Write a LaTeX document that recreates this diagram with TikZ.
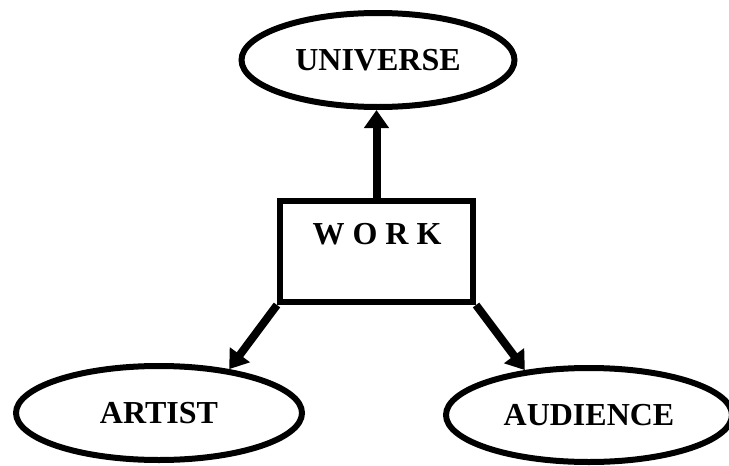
\documentclass[tikz,border=0pt]{standalone}
\usepackage{fontspec}
\setmainfont{Liberation Serif}
\usetikzlibrary{arrows.meta,shapes.geometric}
\tikzset{
  oval/.style={draw, ellipse, line width=6pt, minimum width=286pt, minimum height=94pt,
               inner sep=0pt, font=\fontsize{32}{32}\selectfont\bfseries},
  workbox/.style={draw, rectangle, line width=6pt, minimum width=193pt,
                  minimum height=101pt, inner sep=0pt},
  caption/.style={inner sep=0pt, font=\fontsize{32}{32}\selectfont\bfseries},
  link/.style={-{Triangle[length=18pt,width=24pt]}, line width=8pt},
}
\begin{document}
\begin{tikzpicture}[x=1pt, y=-1pt]
    \useasboundingbox (0,0) rectangle (729,466);
    \node[oval, minimum width=273pt] (universe) at (378,60) {UNIVERSE};
    \node[workbox] (work) at (376.5,251.5) {};
    \node[caption] (worklabel) at (377,234) {W O R K};
    \node[oval] (artist) at (159,413) {ARTIST};
    \node[oval] (audience) at (589,415) {AUDIENCE};
    \draw[link] (work.north) -- (work.north |- universe.south);
    \draw[link] (work.south west) -- (artist.32);
    \draw[link] (work.south east) -- (audience.145);
  \end{tikzpicture}
\end{document}
